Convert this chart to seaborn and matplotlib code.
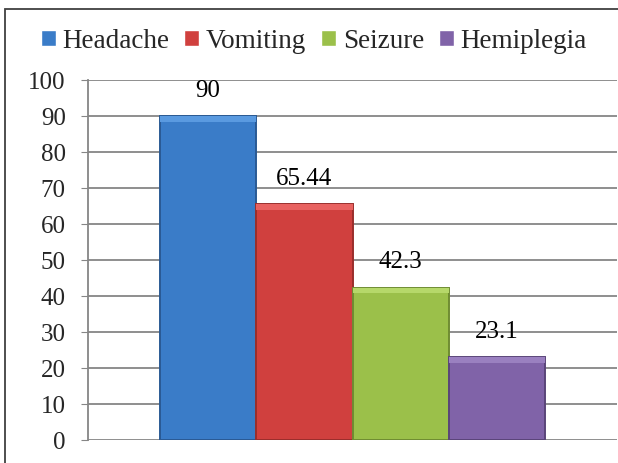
import matplotlib
matplotlib.use('Agg')
import matplotlib.pyplot as plt
import seaborn as sns
import pandas as pd
from matplotlib.patches import Rectangle

# values
symptoms = ['Headache', 'Vomiting', 'Seizure', 'Hemiplegia']
percent = [90, 65.44, 42.3, 23.1]
label_text = ['90', '65.44', '42.3', '23.1']
colors = ['#3a7cc8', '#d0403e', '#9bc04a', '#8063a8']
edges = ['#2a5a94', '#9a2e2c', '#6f8c32', '#5a4579']
highlights = ['#5a9ae0', '#e86260', '#b6d86a', '#9a80c0']

SERIF = 'Liberation Serif'

df = pd.DataFrame({'group': [''] * 4, 'symptom': symptoms, 'percent': percent})

sns.set_style('white')

fig = plt.figure(figsize=(6.18, 4.64), dpi=100)
ax = fig.add_axes([88 / 618, 23 / 464, 529 / 618, 360 / 464])

sns.barplot(data=df, x='group', y='percent', hue='symptom', palette=colors,
            width=0.728, gap=0, ax=ax, saturation=1)

bars = list(ax.patches)
for bar, ec, hl in zip(bars, edges, highlights):
    bar.set_edgecolor(ec)
    bar.set_linewidth(1.4)
    bar.set_zorder(3)
    # light bevel strip along the top of each bar
    ax.add_patch(Rectangle((bar.get_x(), bar.get_height() - 1.6), bar.get_width(), 1.6,
                           facecolor=hl, edgecolor='none', zorder=4))

for bar, txt in zip(bars, label_text):
    ax.annotate(txt, (bar.get_x() + bar.get_width() / 2, bar.get_height()),
                xytext=(0, 11), textcoords='offset points',
                ha='center', va='bottom', fontsize=18, color='black',
                family=SERIF)

ax.set_ylim(0, 100)
ax.set_yticks(range(0, 101, 10))
ax.tick_params(axis='y', labelsize=18, length=5, direction='out', color='#868686',
               left=True, pad=11)
for lbl in ax.get_yticklabels():
    lbl.set_family(SERIF)
ax.tick_params(axis='x', bottom=False, labelbottom=False)
ax.set_xlabel('')
ax.set_ylabel('')
ax.yaxis.grid(True, color='#868686', linewidth=1.3)
ax.set_axisbelow(True)
for side in ['top', 'right', 'bottom']:
    ax.spines[side].set_visible(False)
ax.spines['left'].set_color('#868686')
ax.spines['left'].set_linewidth(1.3)

handles, labels = ax.get_legend_handles_labels()
ax.get_legend().remove()
fig.legend(handles, labels, loc='center', bbox_to_anchor=(0.508, 1 - 42 / 464),
           ncol=4, frameon=False, prop={'family': SERIF, 'size': 19.5},
           handlelength=0.55, handleheight=0.55, handletextpad=0.25,
           columnspacing=0.55)

# outer chart border, running off the right and bottom edges like the original
fig.patches.append(Rectangle((5 / 618, -0.1), 1.2, 1.1 - 10 / 464,
                             transform=fig.transFigure, fill=False,
                             edgecolor='#404040', linewidth=1.3))

fig.savefig('out.png', dpi=100)
